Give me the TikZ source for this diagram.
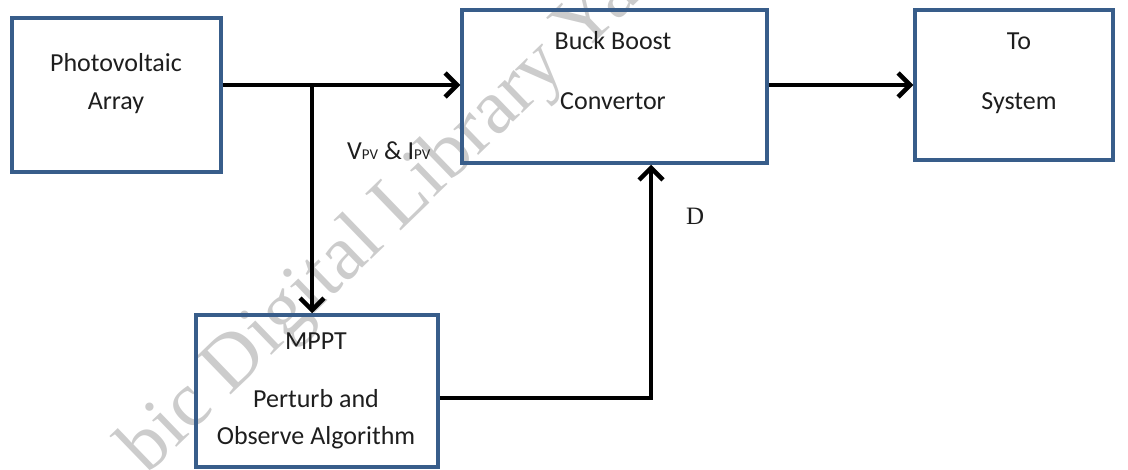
\documentclass[tikz,border=0pt]{standalone}
\usepackage{fontspec}
\setmainfont{Carlito}
\newfontfamily\wmserif{Liberation Serif}
\usetikzlibrary{arrows.meta}
\definecolor{boxblue}{HTML}{385D8A}
\definecolor{txt}{HTML}{1E1E1E}
\begin{document}
\begin{tikzpicture}[x=1pt,y=-1pt,
  blk/.style={draw=boxblue, line width=3.5pt, inner sep=0pt},
  conn/.style={line width=4.5pt, -{Straight Barb[length=12pt,width=24pt]}},
  lbl/.style={font=\fontsize{26}{30}\selectfont, text=txt, inner sep=0pt, anchor=base},
  wm/.style={font=\wmserif\fontsize{78}{86}\selectfont, text=black!20, inner sep=0pt, anchor=base west, rotate=44}]
\useasboundingbox (0,0) rectangle (1128,470);
\clip (0,0) rectangle (1128,470);
% watermark
\node[wm] (wmark) at (147,476) {bic Digital Library Ya};
% boxes
\node[blk, minimum width=209pt, minimum height=154pt] (pv) at (116.5,95) {};
\node[blk, minimum width=305pt, minimum height=153pt] (buck) at (614.5,86.5) {};
\node[blk, minimum width=198pt, minimum height=150pt] (sys) at (1014,85) {};
\node[blk, minimum width=242pt, minimum height=152pt] (mppt) at (317,391) {};
% box texts
\node[lbl] (pv1) at (116,72) {Photovoltaic};
\node[lbl] (pv2) at (116,110) {Array};
\node[lbl] (bk1) at (613,50) {Buck Boost};
\node[lbl] (bk2) at (613,110) {Convertor};
\node[lbl] (sy1) at (1019,50) {To};
\node[lbl] (sy2) at (1019,110) {System};
\node[lbl] (mp1) at (316,350) {MPPT};
\node[lbl] (mp2) at (316,408) {Perturb and};
\node[lbl] (mp3) at (316,445) {Observe Algorithm};
% connectors
\coordinate (jn) at (312,85);
\coordinate (bend) at (651,398);
\draw[conn] (pv.east |- jn) -- (buck.west |- jn);
\draw[conn] (jn) -- (jn |- mppt.north);
\draw[conn] (buck.east |- jn) -- (sys.west |- jn);
\draw[conn] (mppt.east |- bend) -- (bend) -- (bend |- buck.south);
% labels
\node[lbl, anchor=base west] (vi) at (347,160) {V{\fontsize{15}{16}\selectfont PV} \& I{\fontsize{15}{16}\selectfont PV}};
\node[inner sep=0pt, anchor=base west, font=\wmserif\fontsize{25}{30}\selectfont, text=txt] (d) at (686,225) {D};
\end{tikzpicture}
\end{document}
